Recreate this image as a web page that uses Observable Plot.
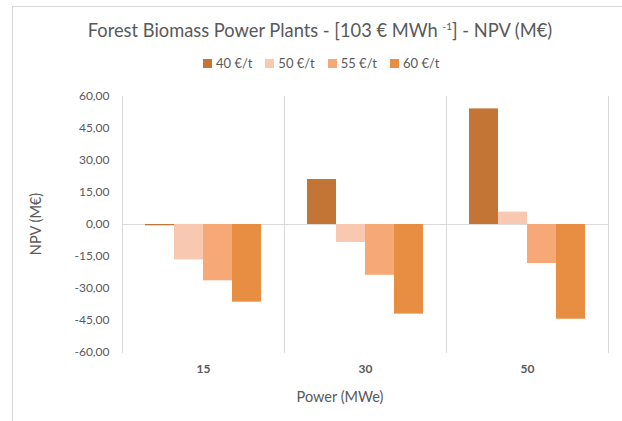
<!DOCTYPE html>
<html>
<head>
<meta charset="utf-8">
<script src="https://cdn.jsdelivr.net/npm/d3@7"></script>
<script src="https://cdn.jsdelivr.net/npm/@observablehq/plot@0.6"></script>
<style>
  html, body { margin: 0; padding: 0; background: #fff; }
  body { width: 622px; height: 421px; position: relative; overflow: hidden; font-family: Lato, "Open Sans", sans-serif; color: #595959; }
  #border { position: absolute; left: 12px; top: 6px; width: 620px; height: 420px; border-left: 1px solid #d9d9d9; border-top: 1px solid #d9d9d9; }
  #title { position: absolute; left: 0; width: 640px; top: 19px; text-align: center; font-size: 18.3px; color: #595959; white-space: nowrap; }
  #title sup { font-size: 10px; vertical-align: 7px; line-height: 0; }
  #legend { position: absolute; left: 203px; top: 55px; font-size: 13px; display: flex; gap: 0; white-space: nowrap; }
  .item { display: flex; align-items: center; margin-right: 13px; }
  .sw { width: 9px; height: 9px; display: inline-block; margin-right: 4px; }
  #chart { position: absolute; left: 0; top: 80px; }
</style>
</head>
<body>
<div id="border"></div>
<div id="title">Forest Biomass Power Plants - [103 € MWh <sup>-1</sup>] - NPV (M€)</div>
<div id="legend"></div>
<div id="chart"></div>
<script>
const categories = ["15", "30", "50"];
const series = ["40 €/t", "50 €/t", "55 €/t", "60 €/t"];
const colors = ["#C27534", "#F8C9B0", "#F6A876", "#E88E42"];
const values40 = [-0.6, 21.1, 54.2];
const values50 = [-16.6, -8.4, 5.8];
const values55 = [-26.4, -23.8, -18.3];
const values60 = [-36.4, -42.0, -44.4];
const yTicks = [-60, -45, -30, -15, 0, 15, 30, 45, 60];
const xTitle = "Power (MWe)";
const yTitle = "NPV (M€)";

const seriesValues = [values40, values50, values55, values60];
const data = [];
categories.forEach((c, i) => {
  series.forEach((s, j) => data.push({power: c, series: s, npv: seriesValues[j][i]}));
});

const legend = document.getElementById("legend");
series.forEach((s, j) => {
  const it = document.createElement("div");
  it.className = "item";
  it.innerHTML = `<span class="sw" style="background:${colors[j]}"></span><span>${s}</span>`;
  legend.appendChild(it);
});

const fmt = d => d.toFixed(2).replace(".", ",");

const plot = Plot.plot({
  width: 622,
  height: 341,
  marginTop: 16,
  marginBottom: 69,
  marginLeft: 121,
  marginRight: 14,
  style: {fontFamily: "Lato, 'Open Sans', sans-serif", color: "#595959", background: "transparent"},
  fx: {domain: categories, padding: 0, label: null},
  x: {domain: series, paddingInner: 0, paddingOuter: 0.75, axis: null},
  y: {domain: [-60, 60], axis: null},
  color: {domain: series, range: colors},
  marks: [
    Plot.frame({anchor: "left", stroke: "#d9d9d9"}),
    Plot.frame({anchor: "right", stroke: "#d9d9d9"}),
    Plot.ruleY([0], {stroke: "#d9d9d9"}),
    Plot.barY(data, {fx: "power", x: "series", y: "npv", fill: "series"}),
    Plot.axisY(yTicks, {anchor: "left", tickSize: 0, tickPadding: 13, tickFormat: fmt, fontSize: 12, fill: "#595959", label: null}),
    Plot.axisFx({anchor: "bottom", tickSize: 0, tickPadding: 12, fontSize: 12, fontWeight: "bold", fill: "#595959", label: null})
  ]
});
document.getElementById("chart").appendChild(plot);

// axis titles
const svg = d3.select(plot);
svg.append("text")
  .attr("x", 340).attr("y", 322)
  .attr("text-anchor", "middle")
  .attr("font-size", 14.5)
  .attr("fill", "#595959")
  .text(xTitle);
svg.append("text")
  .attr("transform", "translate(41,144) rotate(-90)")
  .attr("text-anchor", "middle")
  .attr("font-size", 14.5)
  .attr("fill", "#595959")
  .text(yTitle);
</script>
</body>
</html>
